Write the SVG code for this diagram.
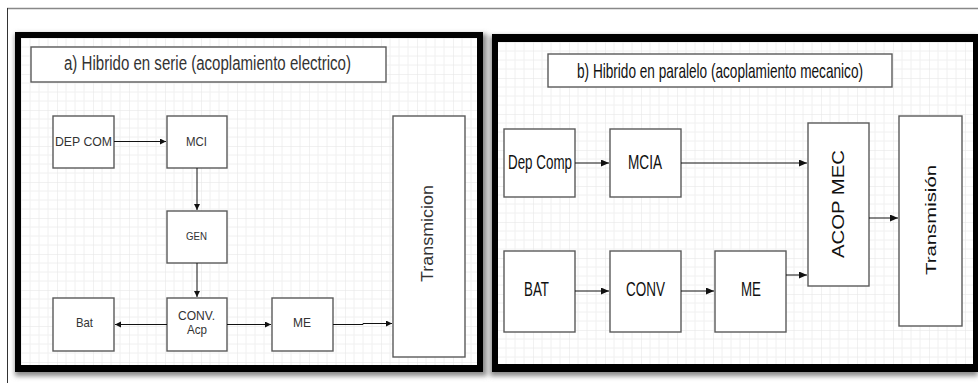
<svg xmlns="http://www.w3.org/2000/svg" width="978" height="383" viewBox="0 0 978 383">
<defs>
<style>
.box{fill:#fff;stroke:#5a5a5a;stroke-width:1.4}
.tl{font-family:"Liberation Sans",Arial,sans-serif;fill:#333;text-anchor:middle}
.tr{font-family:"Liberation Sans",Arial,sans-serif;fill:#111;text-anchor:middle}
.cl{fill:none;stroke:#111;stroke-width:1}
.ca{marker-end:url(#ahS)}
.cb{marker-end:url(#ahB)}
</style>
<marker id="ahS" markerUnits="userSpaceOnUse" markerWidth="8" markerHeight="8" refX="6" refY="3" orient="auto"><path d="M0,0 L6,3 L0,6 Z" fill="#111"/></marker>
<marker id="ahB" markerUnits="userSpaceOnUse" markerWidth="10" markerHeight="10" refX="8" refY="3.5" orient="auto"><path d="M0,0 L8,3.5 L0,7 Z" fill="#111"/></marker>
<pattern id="gridL" x="21" y="38" width="36" height="36" patternUnits="userSpaceOnUse">
<path d="M9,0V36M18,0V36M27,0V36M0,9H36M0,18H36M0,27H36" stroke="#f0f0f0" stroke-width="1" fill="none"/>
<path d="M0,0V36M0,0H36" stroke="#e4e4e4" stroke-width="1" fill="none"/>
</pattern>
<pattern id="gridR" x="497" y="42" width="36" height="36" patternUnits="userSpaceOnUse">
<path d="M9,0V36M18,0V36M27,0V36M0,9H36M0,18H36M0,27H36" stroke="#f0f0f0" stroke-width="1" fill="none"/>
<path d="M0,0V36M0,0H36" stroke="#e4e4e4" stroke-width="1" fill="none"/>
</pattern>
<filter id="sh" x="-5%" y="-5%" width="110%" height="110%"><feGaussianBlur stdDeviation="2.5"/></filter>
</defs>
<rect width="978" height="383" fill="#fff"/>
<path d="M7,8.5H978" stroke="#888" stroke-width="1.5" fill="none"/>
<path d="M7.5,8V383" stroke="#333" stroke-width="1" fill="none"/>

<g id="panel-a">
<rect x="15" y="34" width="472" height="342" fill="#8a8a8a" filter="url(#sh)"/>
<rect x="15" y="32" width="468" height="340" fill="#000"/>
<rect x="21" y="38" width="456" height="327" fill="#fff"/>
<rect x="21" y="38" width="456" height="327" fill="url(#gridL)"/>
</g>
<g id="panel-b">
<rect x="490" y="36" width="488" height="340" fill="#8a8a8a" filter="url(#sh)"/>
<rect x="492" y="34" width="486" height="338" fill="#000"/>
<rect x="498" y="42" width="475" height="322" fill="#fff"/>
<rect x="498" y="42" width="475" height="322" fill="url(#gridR)"/>
</g>

<g id="title-a"><rect class="box" x="31" y="47" width="355" height="35"/><text class="tl" x="207.5" y="69.5" font-size="20" textLength="287" lengthAdjust="spacingAndGlyphs">a) Hibrido en serie (acoplamiento electrico)</text></g>
<g id="dep-com"><rect class="box" x="53" y="116" width="61" height="52"/><text class="tl" x="83.5" y="146" font-size="12.5" textLength="57" lengthAdjust="spacingAndGlyphs">DEP COM</text></g>
<g id="mci"><rect class="box" x="167" y="116" width="60" height="52"/><text class="tl" x="196.5" y="146" font-size="12.5" textLength="21" lengthAdjust="spacingAndGlyphs">MCI</text></g>
<g id="gen"><rect class="box" x="167" y="211" width="60" height="52"/><text class="tl" x="196.5" y="240" font-size="11.5" textLength="21" lengthAdjust="spacingAndGlyphs">GEN</text></g>
<g id="conv-acp"><rect class="box" x="167" y="298" width="60" height="53"/><text class="tl" x="196.5" y="320" font-size="13.5" textLength="37" lengthAdjust="spacingAndGlyphs">CONV.</text><text class="tl" x="197" y="334" font-size="13.5" textLength="20" lengthAdjust="spacingAndGlyphs">Acp</text></g>
<g id="bat-a"><rect class="box" x="53" y="298" width="61" height="53"/><text class="tl" x="84.5" y="327" font-size="13.5" textLength="17" lengthAdjust="spacingAndGlyphs">Bat</text></g>
<g id="me-a"><rect class="box" x="272" y="298" width="61" height="53"/><text class="tl" x="302" y="327" font-size="13.5" textLength="18" lengthAdjust="spacingAndGlyphs">ME</text></g>
<g id="transmicion"><rect class="box" x="393" y="116" width="72" height="241"/><text class="tl" transform="translate(433,233.5) rotate(-90)" x="0" y="0" font-size="16.5" textLength="97" lengthAdjust="spacingAndGlyphs">Transmicion</text></g>

<g id="title-b"><rect class="box" x="548" y="54" width="344" height="33"/><text class="tr" x="720" y="77.5" font-size="21" textLength="286" lengthAdjust="spacingAndGlyphs">b) Hibrido en paralelo (acoplamiento mecanico)</text></g>
<g id="dep-comp"><rect class="box" x="504" y="129" width="71" height="68"/><text class="tr" x="540" y="169" font-size="20" textLength="64" lengthAdjust="spacingAndGlyphs">Dep Comp</text></g>
<g id="mcia"><rect class="box" x="610" y="129" width="71" height="68"/><text class="tr" x="645" y="169" font-size="20" textLength="34" lengthAdjust="spacingAndGlyphs">MCIA</text></g>
<g id="bat-b"><rect class="box" x="504" y="251" width="71" height="81"/><text class="tr" x="536.5" y="296" font-size="20" textLength="25" lengthAdjust="spacingAndGlyphs">BAT</text></g>
<g id="conv"><rect class="box" x="610" y="251" width="71" height="81"/><text class="tr" x="645.5" y="296" font-size="20" textLength="39" lengthAdjust="spacingAndGlyphs">CONV</text></g>
<g id="me-b"><rect class="box" x="715" y="251" width="71" height="81"/><text class="tr" x="751" y="296" font-size="20" textLength="20" lengthAdjust="spacingAndGlyphs">ME</text></g>
<g id="acop-mec"><rect class="box" x="808" y="123" width="61" height="163"/><text class="tr" transform="translate(843.5,204) rotate(-90)" x="0" y="0" font-size="16" textLength="108" lengthAdjust="spacingAndGlyphs">ACOP MEC</text></g>
<g id="transmision"><rect class="box" x="899" y="116" width="63" height="210"/><text class="tr" transform="translate(936,220) rotate(-90)" x="0" y="0" font-size="15" textLength="110" lengthAdjust="spacingAndGlyphs">Transmisión</text></g>

<g id="connectors">
<path class="cl ca" d="M114,141.5H166"/>
<path class="cl ca" d="M197,168V210"/>
<path class="cl ca" d="M197,263V297"/>
<path class="cl ca" d="M167,324.5H115"/>
<path class="cl ca" d="M227,324.5H271"/>
<path class="cl ca" d="M333,324.5H363V323.5H392"/>
<path class="cl cb" d="M575,163H609"/>
<path class="cl cb" d="M681,163H807"/>
<path class="cl cb" d="M575,291H609"/>
<path class="cl cb" d="M681,291H714"/>
<path class="cl cb" d="M786,275H807"/>
<path class="cl cb" d="M869,218H898"/>
</g>
</svg>
